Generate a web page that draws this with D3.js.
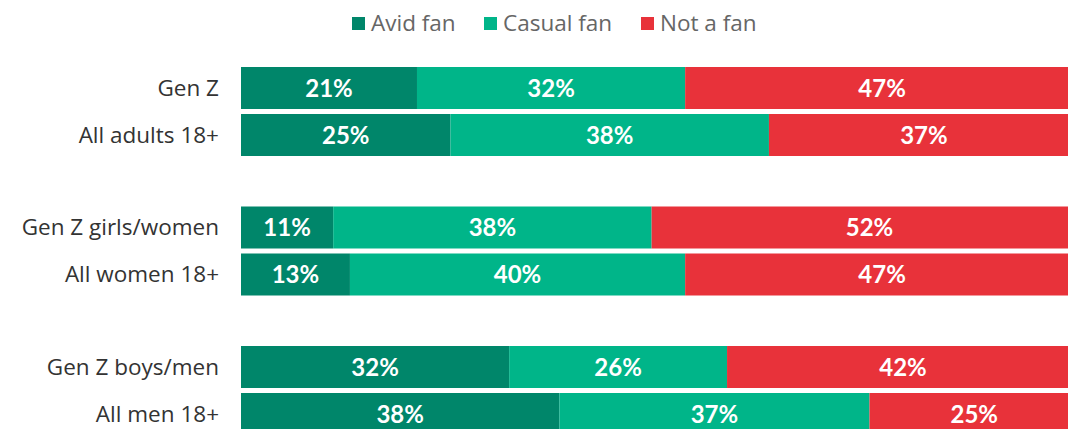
<!DOCTYPE html>
<html>
<head>
<meta charset="utf-8">
<script src="https://cdn.jsdelivr.net/npm/d3@7"></script>
<style>
  body { margin: 0; background: #fff; }
  svg { display: block; font-family: Lato, "Open Sans", sans-serif; }
  .lbl { font-family: "Open Sans", Lato, sans-serif; }
</style>
</head>
<body>
<svg id="chart"></svg>
<script>
// data
const groups = ["all", "women", "men"];
const rowLabels = [
    ["Gen Z", "All adults 18+"],
    ["Gen Z girls/women", "All women 18+"],
    ["Gen Z boys/men", "All men 18+"]
];
const series = ["Avid fan", "Casual fan", "Not a fan"];
const avid   = [[21, 25], [11, 13], [32, 38]];
const casual = [[32, 38], [38, 40], [26, 37]];
const notFan = [[47, 37], [52, 47], [42, 25]];
const colors = ["#00866a", "#00b589", "#e8323a"];

const width = 1068, height = 429;
const margin = { top: 67, left: 241 };

const svg = d3.select("#chart")
    .attr("width", width)
    .attr("height", height);

// x runs past the right edge, the original is cropped there
const x = d3.scaleLinear()
    .domain([0, 100])
    .range([margin.left, margin.left + 838]);

const yGroup = d3.scaleBand()
    .domain(groups)
    .range([margin.top, margin.top + 3 * 139.5]);

const yRow = d3.scaleBand()
    .domain([0, 1])
    .range([0, 89])
    .paddingInner(5 / 47);

const color = d3.scaleOrdinal().domain(series).range(colors);

// legend
const legendItems = [
    { name: series[0], x: 352 },
    { name: series[1], x: 484 },
    { name: series[2], x: 641 }
];
const legend = svg.append("g").attr("transform", "translate(0, 23)");
legendItems.forEach(item => {
    legend.append("rect")
        .attr("x", item.x)
        .attr("y", -6)
        .attr("width", 13)
        .attr("height", 13)
        .attr("fill", color(item.name));
    legend.append("text")
        .attr("class", "lbl")
        .attr("x", item.x + 19)
        .attr("y", 0)
        .attr("dy", "0.35em")
        .attr("font-size", 22.5)
        .attr("fill", "#666")
        .text(item.name);
});

// rows
groups.forEach((g, gi) => {
    [0, 1].forEach(ri => {
        const vals = [avid[gi][ri], casual[gi][ri], notFan[gi][ri]];
        const y0 = yGroup(g) + yRow(ri);
        const bh = yRow.bandwidth();
        let acc = 0;
        const segs = vals.map((v, i) => {
            const s = { name: series[i], start: acc, value: v };
            acc += v;
            return s;
        });

        const row = svg.append("g");

        row.selectAll("rect")
            .data(segs)
            .join("rect")
            .attr("x", d => x(d.start))
            .attr("y", y0)
            .attr("width", d => x(d.start + d.value) - x(d.start))
            .attr("height", bh)
            .attr("fill", d => color(d.name));

        row.selectAll("text.val")
            .data(segs)
            .join("text")
            .attr("class", "val")
            .attr("x", d => (x(d.start) + x(d.start + d.value)) / 2)
            .attr("y", y0 + bh / 2)
            .attr("dy", "0.36em")
            .attr("text-anchor", "middle")
            .attr("font-size", 24)
            .attr("font-weight", "bold")
            .attr("fill", "#fff")
            .text(d => d.value + "%");

        row.append("text")
            .attr("class", "lbl")
            .attr("x", 219)
            .attr("y", y0 + bh / 2)
            .attr("dy", "0.35em")
            .attr("text-anchor", "end")
            .attr("font-size", 22.5)
            .attr("fill", "#333")
            .text(rowLabels[gi][ri]);
    });
});
</script>
</body>
</html>
